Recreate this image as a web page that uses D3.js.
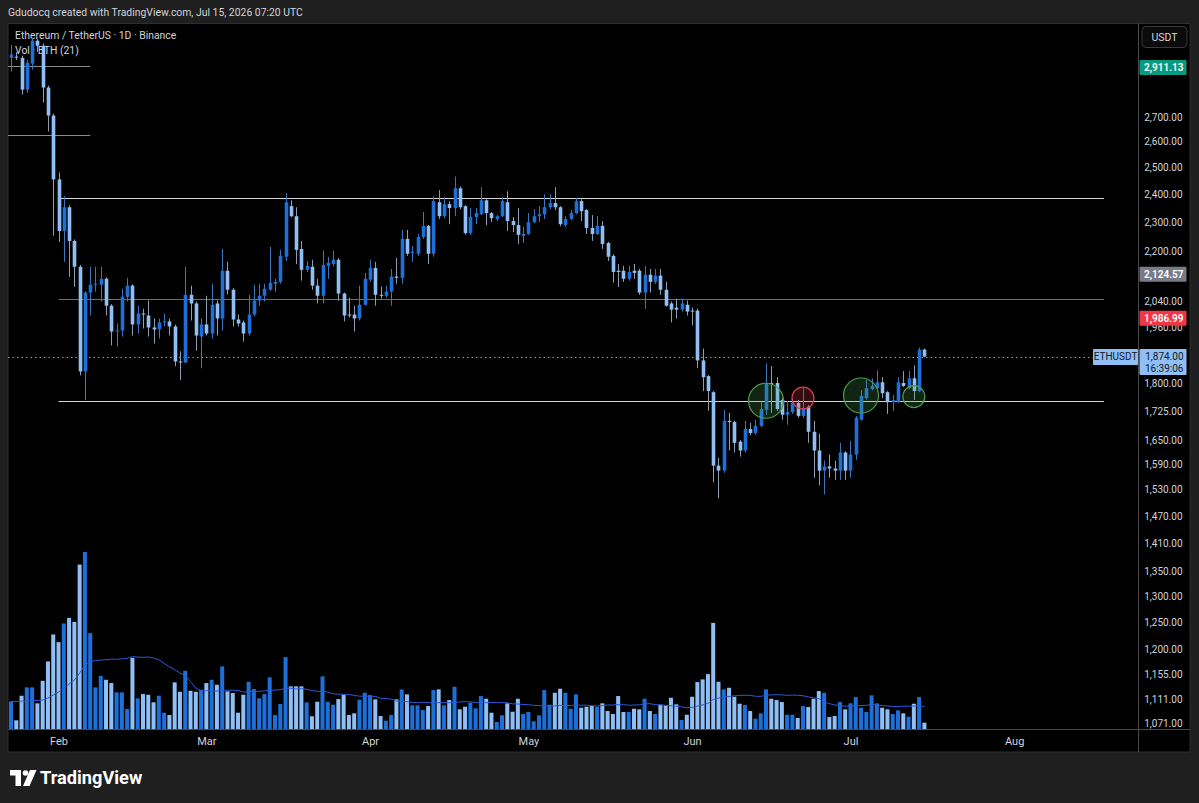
<!DOCTYPE html>
<html>
<head>
<meta charset="utf-8">
<script src="https://cdn.jsdelivr.net/npm/d3@7"></script>
<style>
  body { margin: 0; background: #1f1f1f; }
  svg { display: block; }
  text { font-family: Roboto, "Noto Sans", sans-serif; }
</style>
</head>
<body>
<div id="chart"></div>
<script>

// ETH/USDT daily candles, Jan 23 -> Jul 15 2026: [open, high, low, close]
var firstDay = Date.UTC(2026, 0, 23);

var candles = [
  [2955,3014,2893,2970],[2960,2980,2945,2958],[2955,2964,2794,2815],[2815,2946,2802,2933],
  [2929,3046,2902,3033],[3033,3041,2982,3010],[3010,3020,2760,2824],[2824,2832,2641,2706],
  [2706,2714,2253,2455],[2455,2481,2232,2269],[2269,2393,2165,2353],[2353,2360,2116,2235],
  [2235,2240,2084,2149],[2149,2155,1821,1832],[1832,2070,1754,2066],[2066,2149,1995,2091],
  [2091,2149,2069,2094],[2091,2149,2038,2110],[2110,2115,1995,2025],[2025,2030,1906,1947],
  [1947,1971,1903,1950],[1950,2078,1932,2053],[2053,2113,2038,2088],[2088,2092,1935,1968],
  [1968,2025,1941,2001],[2001,2016,1956,1999],[1995,2041,1932,1959],[1959,1986,1911,1953],
  [1953,1986,1926,1974],[1974,2001,1962,1977],[1977,1986,1935,1962],[1962,1968,1847,1860],
  [1860,1889,1808,1857],[1857,2149,1855,2059],[2059,2088,1980,2032],[2032,2038,1891,1935],
  [1932,1986,1841,1968],[1968,2056,1935,1941],[1941,2094,1926,2028],[2032,2041,1935,1986],
  [1986,2208,1950,2136],[2136,2165,2060,2075],[2075,2080,1962,1983],[1983,1998,1962,1971],
  [1974,1980,1917,1941],[1941,2059,1935,1998],[1998,2091,1992,2041],[2041,2094,2025,2056],
  [2056,2094,2038,2078],[2075,2215,2072,2097],[2094,2110,2069,2100],[2100,2205,2094,2185],
  [2182,2404,2168,2371],[2357,2378,2318,2321],[2321,2353,2158,2205],[2208,2235,2104,2139],
  [2139,2168,2132,2152],[2149,2172,2075,2088],[2088,2110,2032,2056],[2056,2202,2032,2155],
  [2152,2182,2110,2162],[2158,2202,2150,2172],[2172,2178,2041,2063],[2063,2066,1977,1995],
  [1998,2050,1989,1995],[1998,2025,1947,1986],[1986,2088,1980,2028],[2028,2129,2025,2110],
  [2107,2172,2100,2145],[2145,2165,2025,2059],[2059,2085,2047,2056],[2056,2088,2050,2069],
  [2069,2142,2025,2117],[2117,2178,2094,2113],[2113,2273,2094,2242],[2242,2273,2185,2192],
  [2195,2218,2165,2198],[2192,2260,2185,2249],[2249,2336,2242,2287],[2287,2290,2158,2192],
  [2192,2393,2182,2375],[2371,2415,2311,2321],[2321,2389,2314,2364],[2364,2375,2293,2350],
  [2350,2466,2321,2422],[2422,2429,2346,2353],[2357,2360,2256,2262],[2262,2350,2256,2318],
  [2318,2350,2293,2332],[2328,2426,2325,2378],[2378,2382,2290,2332],[2332,2336,2300,2314],
  [2311,2325,2304,2321],[2321,2389,2318,2375],[2371,2411,2269,2304],[2304,2318,2266,2290],
  [2290,2350,2225,2256],[2252,2283,2228,2259],[2259,2332,2256,2300],[2300,2346,2297,2321],
  [2321,2357,2300,2328],[2328,2400,2311,2353],[2353,2400,2346,2368],[2368,2426,2343,2353],
  [2353,2357,2286,2293],[2290,2321,2283,2311],[2311,2343,2307,2332],[2332,2386,2328,2375],
  [2375,2382,2304,2339],[2343,2346,2259,2280],[2280,2325,2235,2259],[2259,2321,2256,2287],
  [2287,2304,2208,2225],[2228,2232,2168,2182],[2185,2190,2097,2132],[2136,2158,2084,2132],
  [2136,2152,2100,2110],[2110,2152,2104,2132],[2136,2158,2110,2129],[2136,2142,2059,2066],
  [2066,2152,2016,2123],[2123,2142,2066,2100],[2100,2142,2094,2120],[2120,2142,2059,2075],
  [2075,2100,2022,2025],[2032,2038,1974,2013],[2019,2047,1986,2013],[2013,2047,2007,2032],
  [2028,2041,1995,2007],[2010,2019,1965,2007],[2010,2016,1841,1863],[1863,1897,1778,1816],
  [1819,1822,1725,1778],[1775,1778,1547,1587],[1587,1606,1510,1575],[1575,1728,1570,1699],
  [1699,1720,1624,1696],[1696,1700,1619,1643],[1646,1650,1609,1624],[1624,1699,1619,1678],
  [1678,1694,1662,1668],[1668,1702,1663,1686],[1686,1748,1683,1730],[1728,1855,1715,1800],
  [1800,1847,1720,1797],[1800,1816,1725,1730],[1754,1760,1702,1715],[1715,1751,1689,1722],
  [1722,1759,1717,1746],[1746,1754,1707,1712],[1712,1786,1707,1733],[1736,1740,1643,1671],
  [1671,1699,1558,1624],[1624,1666,1540,1575],[1575,1599,1519,1585],[1585,1614,1558,1580],
  [1580,1599,1553,1575],[1575,1643,1553,1619],[1619,1622,1553,1575],[1575,1648,1558,1614],
  [1614,1712,1601,1707],[1702,1781,1700,1765],[1759,1808,1755,1786],[1783,1813,1780,1792],
  [1786,1835,1783,1802],[1802,1816,1759,1772],[1775,1778,1717,1748],[1748,1767,1725,1754],
  [1748,1816,1746,1802],[1800,1833,1789,1792],[1786,1833,1783,1813],[1813,1849,1754,1778],
  [1778,1900,1775,1894],[1894,1897,1872,1874]
];

// daily volume (hundreds of ETH)
var volumes = [
  276,87,333,417,417,257,483,677,947,870,1057,1113,1073,1647,1773,960,417,533,493,460,
  367,367,200,713,307,350,343,267,333,163,140,467,373,583,383,373,393,460,493,443,
  627,377,360,163,343,473,400,307,350,517,140,250,720,427,427,427,267,127,273,527,
  273,243,300,343,140,157,293,363,340,297,130,83,140,297,397,347,237,237,190,230,
  390,397,237,290,423,197,223,263,207,330,303,163,70,137,257,173,303,150,170,77,
  137,390,243,363,403,363,203,347,213,223,230,223,257,180,150,330,170,170,203,197,
  303,180,150,243,237,313,247,90,143,323,470,497,550,1063,473,397,413,323,253,240,
  180,103,157,397,303,290,270,143,143,110,230,220,303,380,363,120,130,270,197,257,
  320,213,170,337,257,213,197,150,187,157,123,253,320,63
];

// first 20 points of the 21-day volume average (earlier history is off screen)
var volMaHead = [273,275,278,280,283,286,290,310,340,370,410,450,490,560,640,675,685,690,695,700];

var priceTicks = [2700,2600,2500,2400,2300,2200,2040,1960,1800,1725,1650,1590,1530,1470,1410,1350,1300,1250,1200,1155,1111,1071];

var monthNames = ["Feb","Mar","Apr","May","Jun","Jul","Aug"];
var monthDates = [Date.UTC(2026,1,1),Date.UTC(2026,2,1),Date.UTC(2026,3,1),Date.UTC(2026,4,1),
                  Date.UTC(2026,5,1),Date.UTC(2026,6,1),Date.UTC(2026,7,1)];

var levels = [
  { price: 2920, from: Date.UTC(2026,0,18), to: Date.UTC(2026,1,7),  kind: "old" },
  { price: 2626, from: Date.UTC(2026,0,18), to: Date.UTC(2026,1,7),  kind: "old" },
  { price: 2388, from: Date.UTC(2026,1,1),  to: Date.UTC(2026,7,18), kind: "key" },
  { price: 2045, from: Date.UTC(2026,1,1),  to: Date.UTC(2026,7,18), kind: "mid" },
  { price: 1752, from: Date.UTC(2026,1,1),  to: Date.UTC(2026,7,18), kind: "key" }
];

var marks = [
  { day: Date.UTC(2026,5,15), price: 1752, kind: "hold", big: true },
  { day: Date.UTC(2026,5,22), price: 1759, kind: "reject", big: false },
  { day: Date.UTC(2026,6,3),  price: 1766, kind: "hold", big: true },
  { day: Date.UTC(2026,6,13), price: 1763, kind: "hold", big: false }
];

var badges = [
  { value: 2911.13, kind: "high" },
  { value: 2124.57, kind: "grey" },
  { value: 1986.99, kind: "low" }
];
var lastPrice = 1874.00;
var countdown = "16:39:06";

var W = 1199, H = 803;
var pane = { left: 8, top: 23.5, right: 1190, bottom: 752 };
var axisX = 1138.5, axisY = 729.5;

var upColor = "#1f6fd8", downColor = "#90bff5";
var textColor = "#d1d4dc";

var dates = candles.map(function(d, i) { return d3.utcDay.offset(new Date(firstDay), i); });

var x = d3.scaleUtc()
  .domain([dates[0], dates[dates.length - 1]])
  .range([11, 924.4]);

var y = d3.scaleLog()
  .domain([1071, 2700])
  .range([723.6, 117]);

var yVol = d3.scaleLinear()
  .domain([0, 1773])
  .range([729, 552]);

var volMa = volumes.map(function(v, i) {
  if (i < volMaHead.length) return volMaHead[i];
  return d3.mean(volumes.slice(i - 20, i + 1));
});

var svg = d3.select("#chart").append("svg")
  .attr("width", W)
  .attr("height", H);

svg.append("rect")
  .attr("width", W).attr("height", H)
  .attr("fill", "#1f1f1f");

svg.append("rect")
  .attr("x", pane.left).attr("y", pane.top)
  .attr("width", pane.right - pane.left).attr("height", pane.bottom - pane.top)
  .attr("fill", "#000")
  .attr("stroke", "#2e2e2e");

svg.append("text")
  .attr("x", 8).attr("y", 16)
  .attr("fill", textColor)
  .style("font-size", "10.4px")
  .text("Gdudocq created with TradingView.com, Jul 15, 2026 07:20 UTC");

svg.append("clipPath").attr("id", "plot")
  .append("rect")
  .attr("x", pane.left).attr("y", pane.top)
  .attr("width", axisX - pane.left).attr("height", axisY - pane.top);

// legend sits under the candles, as on the original
svg.append("text")
  .attr("x", 15).attr("y", 39)
  .attr("fill", textColor).style("font-size", "10.4px")
  .text("Ethereum / TetherUS · 1D · Binance");
svg.append("text")
  .attr("x", 15).attr("y", 54)
  .attr("fill", textColor).style("font-size", "10.4px")
  .text("Vol · ETH (21)");

var plot = svg.append("g").attr("clip-path", "url(#plot)");

// volume
plot.append("g").selectAll("rect")
  .data(volumes)
  .join("rect")
  .attr("x", function(d, i) { return x(dates[i]) - 2; })
  .attr("y", function(d) { return yVol(d); })
  .attr("width", 4)
  .attr("height", function(d) { return yVol(0) - yVol(d); })
  .attr("fill", function(d, i) { return candles[i][3] >= candles[i][0] ? upColor : downColor; });

plot.append("path")
  .datum(volMa)
  .attr("fill", "none")
  .attr("stroke", "#2f57d8")
  .attr("stroke-width", 1)
  .attr("d", d3.line()
    .x(function(d, i) { return x(dates[i]); })
    .y(function(d) { return yVol(d); }));

// drawn levels
var levelColor = { old: "#8a8a8a", key: "#d6d6d6", mid: "#6e6e6e" };
plot.append("g").selectAll("line")
  .data(levels)
  .join("line")
  .attr("x1", function(d) { return x(new Date(d.from)); })
  .attr("x2", function(d) { return x(new Date(d.to)); })
  .attr("y1", function(d) { return Math.round(y(d.price)) + 0.5; })
  .attr("y2", function(d) { return Math.round(y(d.price)) + 0.5; })
  .attr("stroke", function(d) { return levelColor[d.kind]; })
  .attr("stroke-width", 1.2);

// last price line
plot.append("line")
  .attr("x1", pane.left).attr("x2", axisX)
  .attr("y1", Math.round(y(lastPrice)) + 0.5).attr("y2", Math.round(y(lastPrice)) + 0.5)
  .attr("stroke", "#9aa3b3")
  .attr("stroke-dasharray", "1.5,3");

// candles
var candle = plot.append("g").selectAll("g")
  .data(candles)
  .join("g");

candle.append("line")
  .attr("x1", function(d, i) { return Math.round(x(dates[i])) + 0.5; })
  .attr("x2", function(d, i) { return Math.round(x(dates[i])) + 0.5; })
  .attr("y1", function(d) { return y(d[1]); })
  .attr("y2", function(d) { return y(d[2]); })
  .attr("stroke", function(d) { return d[3] >= d[0] ? "#3f74c0" : "#8d9db3"; })
  .attr("stroke-width", 1);

candle.append("rect")
  .attr("x", function(d, i) { return Math.round(x(dates[i])) - 1.3; })
  .attr("width", 3.6)
  .attr("y", function(d) { return y(Math.max(d[0], d[3])); })
  .attr("height", function(d) { return Math.max(1, Math.abs(y(d[0]) - y(d[3]))); })
  .attr("fill", function(d) { return d[3] >= d[0] ? upColor : downColor; });

// circled retests
var markStyle = {
  hold:   { stroke: "#4f9a52", fill: "rgba(76,175,80,0.22)" },
  reject: { stroke: "#d8424f", fill: "rgba(242,54,69,0.22)" }
};
plot.append("g").selectAll("circle")
  .data(marks)
  .join("circle")
  .attr("cx", function(d) { return x(new Date(d.day)); })
  .attr("cy", function(d) { return y(d.price); })
  .attr("r", function(d) { return d.big ? 17.5 : 11; })
  .attr("fill", function(d) { return markStyle[d.kind].fill; })
  .attr("stroke", function(d) { return markStyle[d.kind].stroke; })
  .attr("stroke-width", 1.2);

// pane separators
svg.append("line")
  .attr("x1", axisX).attr("x2", axisX).attr("y1", pane.top).attr("y2", pane.bottom)
  .attr("stroke", "#4a4a4a");
svg.append("line")
  .attr("x1", pane.left).attr("x2", pane.right).attr("y1", axisY).attr("y2", axisY)
  .attr("stroke", "#4a4a4a");

// price axis
var priceAxis = svg.append("g")
  .attr("transform", "translate(" + axisX + ",0)")
  .call(d3.axisRight(y)
    .tickValues(priceTicks)
    .tickFormat(d3.format(",.2f"))
    .tickSize(0)
    .tickPadding(0));
priceAxis.select(".domain").remove();
priceAxis.selectAll("text")
  .attr("x", 44)
  .attr("text-anchor", "end")
  .attr("fill", textColor)
  .style("font-size", "10px")
  .style("font-family", "Roboto, sans-serif");

// time axis
var timeAxis = svg.append("g")
  .attr("transform", "translate(0," + axisY + ")")
  .call(d3.axisBottom(x)
    .tickValues(monthDates.map(function(d) { return new Date(d); }))
    .tickFormat(function(d, i) { return monthNames[i]; })
    .tickSize(0)
    .tickPadding(8));
timeAxis.select(".domain").remove();
timeAxis.selectAll("text")
  .attr("fill", textColor)
  .style("font-size", "11px")
  .style("font-family", "Roboto, sans-serif");

// price badges
var badgeFill = { high: "#089981", grey: "#787b86", low: "#f23645" };
var badge = svg.append("g").selectAll("g")
  .data(badges)
  .join("g")
  .attr("transform", function(d) { return "translate(" + (axisX + 1) + "," + y(d.value) + ")"; });
badge.append("rect")
  .attr("x", 0).attr("y", -7.5).attr("width", 47).attr("height", 15).attr("rx", 1)
  .attr("fill", function(d) { return badgeFill[d.kind]; });
badge.append("text")
  .attr("x", 44).attr("y", 3.8)
  .attr("text-anchor", "end")
  .attr("fill", "#fff")
  .style("font-size", "10px")
  .style("font-weight", "600")
  .text(function(d) { return d3.format(",.2f")(d.value); });

// last price badge with countdown
var ly = y(lastPrice);
var last = svg.append("g").attr("transform", "translate(0," + ly + ")");
last.append("rect")
  .attr("x", axisX + 1).attr("y", -7.5).attr("width", 47).attr("height", 26).attr("rx", 1)
  .attr("fill", "#90bff5");
last.append("text")
  .attr("x", axisX + 45).attr("y", 3.8).attr("text-anchor", "end")
  .attr("fill", "#131722").style("font-size", "10px")
  .text(d3.format(",.2f")(lastPrice));
last.append("text")
  .attr("x", axisX + 45).attr("y", 15).attr("text-anchor", "end")
  .attr("fill", "#131722").style("font-size", "10px")
  .text(countdown);
last.append("rect")
  .attr("x", 1093).attr("y", -7.5).attr("width", 45).attr("height", 16).attr("rx", 1)
  .attr("fill", "#90bff5");
last.append("text")
  .attr("x", 1115.5).attr("y", 3.8).attr("text-anchor", "middle")
  .attr("fill", "#131722").style("font-size", "10px")
  .text("ETHUSDT");

// currency button
svg.append("rect")
  .attr("x", 1142).attr("y", 26.5).attr("width", 45).attr("height", 21).attr("rx", 4)
  .attr("fill", "#0b0b0b").attr("stroke", "#3a3a3a");
svg.append("text")
  .attr("x", 1164.5).attr("y", 41).attr("text-anchor", "middle")
  .attr("fill", textColor).style("font-size", "10.5px")
  .text("USDT");

// TradingView mark
var logo = svg.append("g").attr("transform", "translate(10,770)").attr("fill", "#fff");
logo.append("path").attr("d", "M0,0 H11 V16 H5.5 V5.5 H0 Z");
logo.append("circle").attr("cx", 15.5).attr("cy", 3).attr("r", 2.8);
logo.append("path").attr("d", "M20,0 H26.5 L19.5,16 H13 Z");
svg.append("text")
  .attr("x", 40).attr("y", 784)
  .attr("fill", "#fff")
  .style("font-size", "18.2px")
  .style("font-weight", "700")
  .text("TradingView");

</script>
</body>
</html>
